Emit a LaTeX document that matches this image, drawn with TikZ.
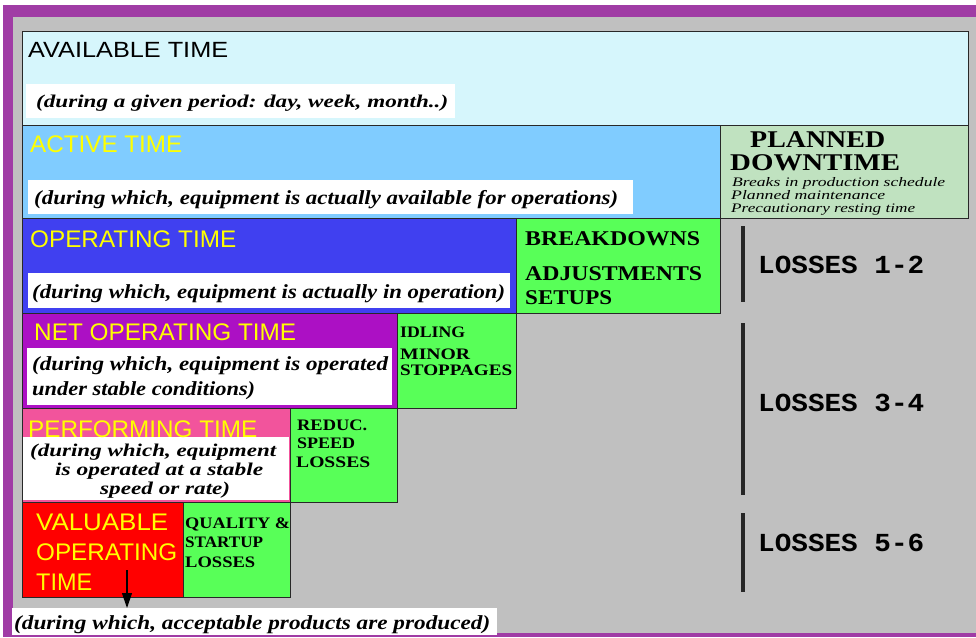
\documentclass[tikz,border=0pt]{standalone}
\usepackage{fontspec}
\setmainfont{Liberation Serif}
\setsansfont{Liberation Sans}
\setmonofont{Liberation Mono}
\usepackage{xcolor}
\usepackage{graphicx}
\usepackage{tikz}
\usetikzlibrary{arrows.meta}

\definecolor{framec}{RGB}{160,60,165}
\definecolor{panelc}{RGB}{192,192,192}
\definecolor{boxline}{RGB}{40,40,40}
\definecolor{availc}{RGB}{214,246,252}
\definecolor{activec}{RGB}{128,204,255}
\definecolor{plannedc}{RGB}{192,226,192}
\definecolor{operc}{RGB}{64,64,240}
\definecolor{netc}{RGB}{172,16,196}
\definecolor{perfc}{RGB}{242,84,156}
\definecolor{valc}{RGB}{255,0,0}
\definecolor{lossc}{RGB}{88,255,88}
\definecolor{ttlc}{RGB}{255,255,0}

\newcommand{\fitw}[2]{\resizebox{#1pt}{\height}{#2}}
\newcommand{\ttlfont}{\sffamily\fontsize{24}{24}\selectfont}
\newcommand{\notefont}{\rmfamily\bfseries\itshape\fontsize{20}{20}\selectfont}
\newcommand{\lossfont}{\rmfamily\bfseries\fontsize{21}{21}\selectfont}
\newcommand{\smallfont}{\rmfamily\bfseries\fontsize{16}{16}\selectfont}
\newcommand{\tinyfont}{\rmfamily\itshape\fontsize{13}{13}\selectfont}
\newcommand{\labfont}{\ttfamily\bfseries\fontsize{26}{26}\selectfont}

\tikzstyle{box} = [rectangle, 
draw=boxline, 
line width=1.2pt, 
anchor=north west, 
inner sep=0pt]
\tikzstyle{note} = [rectangle, 
fill=white, 
anchor=north west, 
inner sep=0pt]
\tikzstyle{txt} = [anchor=base west, inner sep=0pt]
\tikzstyle{bar} = [line width=4pt, draw=black!85]
\tikzstyle{arrow} = [line width=1.2pt,-{Triangle[length=15pt,width=10pt]}]

\begin{document}
\begin{tikzpicture}[x=1pt,y=-1pt]
\useasboundingbox (0,0) rectangle (976,637);
% frame and panel
\fill[framec] (3,5) rectangle (976,637);
\fill[panelc] (13,17) rectangle (976,633);

% time blocks
\node (avail) [box, fill=availc, minimum width=946pt, minimum height=94pt] at (22,31) {};
\node (active) [box, fill=activec, minimum width=698pt, minimum height=93pt] at (22,125) {};
\node (planned) [box, fill=plannedc, minimum width=248pt, minimum height=93pt] at (720,125) {};
\node (oper) [box, fill=operc, minimum width=494pt, minimum height=95pt] at (22,218) {};
\node (brk) [box, fill=lossc, minimum width=204pt, minimum height=95pt] at (516,218) {};
\node (net) [box, fill=netc, minimum width=375pt, minimum height=95pt] at (22,313) {};
\node (idl) [box, fill=lossc, minimum width=119pt, minimum height=95pt] at (397,313) {};
\node (perf) [box, fill=perfc, minimum width=268pt, minimum height=94pt] at (22,408) {};
\node (reduc) [box, fill=lossc, minimum width=107pt, minimum height=94pt] at (290,408) {};
\node (val) [box, fill=valc, minimum width=161pt, minimum height=95pt] at (22,502) {};
\node (qual) [box, fill=lossc, minimum width=107pt, minimum height=95pt] at (183,502) {};

% white note boxes
\node (wAvail) [note, minimum width=429pt, minimum height=34pt] at (26,84) {};
\node (wActive) [note, minimum width=605pt, minimum height=34pt] at (28,180) {};
\node (wOper) [note, minimum width=482pt, minimum height=35pt] at (28,273) {};
\node (wNet) [note, minimum width=365pt, minimum height=57pt] at (27,348) {};
\node (wPerf) [note, minimum width=266pt, minimum height=63pt] at (23,437) {};
\node (wVal) [note, minimum width=485pt, minimum height=27pt] at (12,608) {};

% titles
\node (tAvail) [txt] at (28,57) {\fitw{200}{\ttlfont\fontsize{22}{22}\selectfont AVAILABLE TIME}};
\node (tActive) [txt, text=ttlc] at (30,152) {\fitw{152}{\ttlfont ACTIVE TIME}};
\node (tOper) [txt, text=ttlc] at (30,247) {\fitw{206}{\ttlfont OPERATING TIME}};
\node (tNet) [txt, text=ttlc] at (34,340) {\fitw{262}{\ttlfont NET OPERATING TIME}};
\node (tPerf) [txt, text=ttlc] at (28,437) {\fitw{229}{\ttlfont PERFORMING TIME}};
\node (tVal1) [txt, text=ttlc] at (36,530) {\fitw{132}{\ttlfont VALUABLE}};
\node (tVal2) [txt, text=ttlc] at (36,560) {\fitw{141}{\ttlfont OPERATING}};
\node (tVal3) [txt, text=ttlc] at (36,590) {\fitw{56}{\ttlfont TIME}};

% notes
\node (nAvail) [txt] at (36,107) {\fitw{412}{\notefont\fontsize{18}{18}\selectfont (during a given period: day, week, month..)}};
\node (nActive) [txt] at (34,204) {\fitw{584}{\notefont (during which, equipment is actually available for operations)}};
\node (nOper) [txt] at (32,298) {\fitw{473}{\notefont (during which, equipment is actually in operation)}};
\node (nNet1) [txt] at (32,370) {\fitw{356}{\notefont (during which, equipment is operated}};
\node (nNet2) [txt] at (32,395) {\fitw{223}{\notefont under stable conditions)}};
\node (nPerf1) [txt] at (30,456) {\fitw{246}{\notefont\fontsize{18}{18}\selectfont (during which, equipment}};
\node (nPerf2) [txt] at (55,475) {\fitw{208}{\notefont\fontsize{18}{18}\selectfont is operated at a stable}};
\node (nPerf3) [txt] at (100,494) {\fitw{130}{\notefont\fontsize{18}{18}\selectfont speed or rate)}};
\node (nVal) [txt] at (14,629) {\fitw{476}{\notefont (during which, acceptable products are produced)}};

% planned downtime
\node (pd1) [txt] at (750,147) {\fitw{135}{\lossfont\fontsize{24}{24}\selectfont PLANNED}};
\node (pd2) [txt] at (730,170) {\fitw{170}{\lossfont\fontsize{24}{24}\selectfont DOWNTIME}};
\node (pd3) [txt] at (732,186) {\fitw{213}{\tinyfont Breaks in production schedule}};
\node (pd4) [txt] at (731,199) {\fitw{154}{\tinyfont Planned maintenance}};
\node (pd5) [txt] at (731,212) {\fitw{184}{\tinyfont Precautionary resting time}};

% losses
\node (l1) [txt] at (525,245) {\fitw{175}{\lossfont BREAKDOWNS}};
\node (l2) [txt] at (525,280) {\fitw{177}{\lossfont ADJUSTMENTS}};
\node (l3) [txt] at (525,304) {\fitw{87}{\lossfont SETUPS}};
\node (l4) [txt] at (400,337) {\fitw{65}{\smallfont IDLING}};
\node (l5) [txt] at (400,359) {\fitw{70}{\smallfont MINOR}};
\node (l6) [txt] at (400,375) {\fitw{112}{\smallfont STOPPAGES}};
\node (l7) [txt] at (297,430) {\fitw{70}{\smallfont REDUC.}};
\node (l8) [txt] at (297,448) {\fitw{58}{\smallfont SPEED}};
\node (l9) [txt] at (296,467) {\fitw{74}{\smallfont LOSSES}};
\node (l10) [txt] at (185,528) {\fitw{105}{\smallfont QUALITY \&}};
\node (l11) [txt] at (185,547) {\fitw{78}{\smallfont STARTUP}};
\node (l12) [txt] at (185,567) {\fitw{70}{\smallfont LOSSES}};

% loss groups
\draw[bar] (743,226) -- (743,302);
\draw[bar] (743,323) -- (743,495);
\draw[bar] (743,513) -- (743,592);
\node (g12) [txt] at (758,273) {\fitw{166}{\labfont LOSSES 1-2}};
\node (g34) [txt] at (758,411) {\fitw{166}{\labfont LOSSES 3-4}};
\node (g56) [txt] at (758,551) {\fitw{166}{\labfont LOSSES 5-6}};

\coordinate (arrTop) at (127,570);
\draw [arrow] (arrTop) -- (arrTop |- wVal.north);
\end{tikzpicture}
\end{document}
